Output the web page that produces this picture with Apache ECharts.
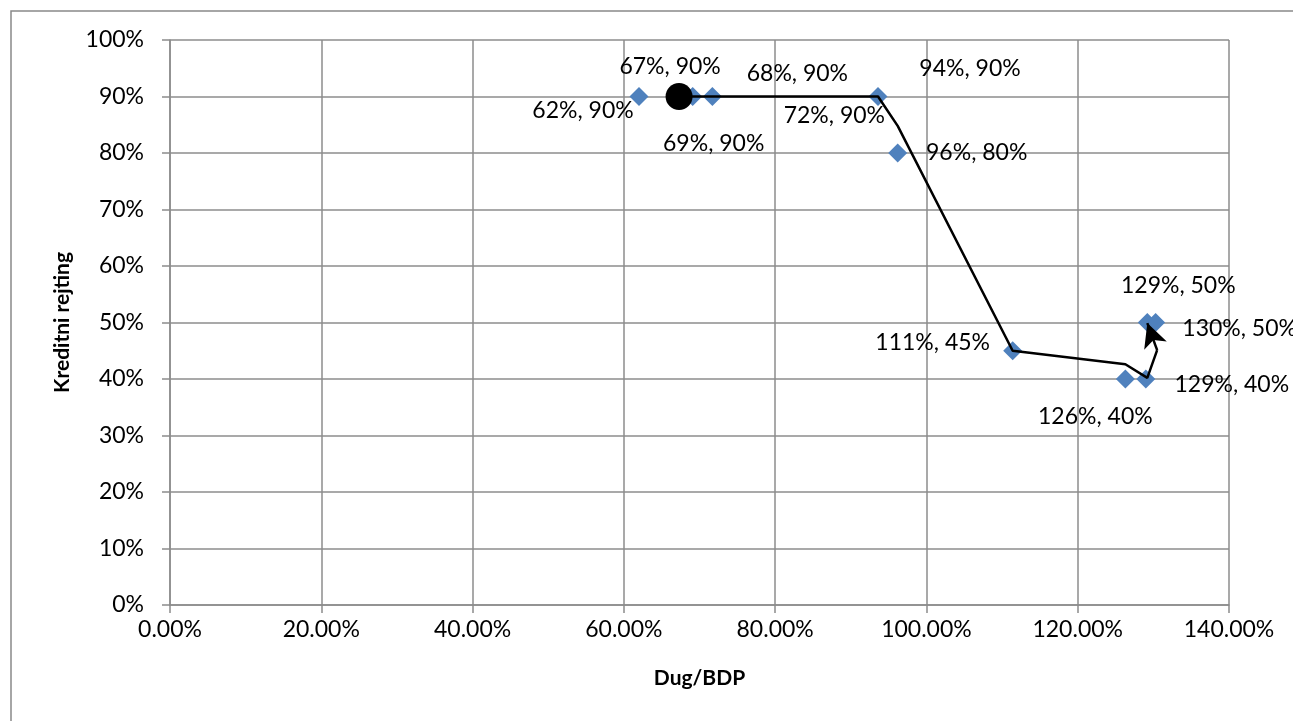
<!DOCTYPE html>
<html><head><meta charset="utf-8">
<script src="https://cdn.jsdelivr.net/npm/echarts@6/dist/echarts.min.js"></script>
<style>html,body{margin:0;padding:0;background:#fff;}#c{width:1293px;height:721px;}</style>
</head><body><div id="c"></div>
<script>
// Data
const debtToGdp = [62.0, 67.3, 68.0, 69.1, 71.7, 93.6, 96.2, 111.4, 126.3, 129.0, 129.2, 130.3];
const creditRating = [90, 90, 90, 90, 90, 90, 80, 45, 40, 40, 50, 50];
const pathX = [67.3, 93.6, 96.2, 111.4, 126.3, 129.2, 130.5];
const pathY = [90, 90, 84.8, 45, 42.6, 40.2, 45.1];
const arrowEnd = [129.2, 49.9];
const startPoint = [67.3, 90];
const xTicks = [0, 20, 40, 60, 80, 100, 120, 140];
const yTicks = [0, 10, 20, 30, 40, 50, 60, 70, 80, 90, 100];

// label placement (style only)
const labelOffsets = [[-56,14],[-9,-30],[113,-23],[21,47],[122,19],[92,-28],[79,0],[-80,-8],[-30,38],[86,6],[31,-37],[84,6]];

const FONT = 'Lato';
const scatterData = debtToGdp.map((x, i) => ({
  value: [x, creditRating[i]],
  label: { show: true, position: 'inside', offset: labelOffsets[i],
    formatter: Math.round(x) + '%, ' + Math.round(creditRating[i]) + '%' }
}));

const chart = echarts.init(document.getElementById('c'));
chart.setOption({
  animation: false,
  textStyle: { fontFamily: FONT },
  graphic: [{ type: 'rect', shape: { x: 11, y: 11, width: 1400, height: 800 },
    style: { fill: 'none', stroke: '#898989', lineWidth: 1.5 }, silent: true }],
  grid: { left: 170, right: 64, top: 40, bottom: 116, containLabel: false },
  xAxis: {
    type: 'value', min: xTicks[0], max: xTicks[xTicks.length-1], interval: 20,
    name: 'Dug/BDP', nameLocation: 'middle', nameGap: 63,
    nameTextStyle: { fontFamily: FONT, fontWeight: 'bold', fontSize: 21, color: '#000' },
    axisLine: { show: true, lineStyle: { color: '#8c8c8c', width: 1.5 } },
    axisTick: { show: true, length: 8, lineStyle: { color: '#8c8c8c', width: 1.5 } },
    axisLabel: { fontFamily: FONT, fontSize: 23, color: '#000', margin: 13,
      formatter: v => v.toFixed(2) + '%' },
    splitLine: { show: true, lineStyle: { color: '#8c8c8c', width: 1.5 } }
  },
  yAxis: {
    type: 'value', min: yTicks[0], max: yTicks[yTicks.length-1], interval: 10,
    name: 'Kreditni rejting', nameLocation: 'middle', nameGap: 97,
    nameTextStyle: { fontFamily: FONT, fontWeight: 'bold', fontSize: 21, color: '#000' },
    axisLine: { show: true, lineStyle: { color: '#8c8c8c', width: 1.5 } },
    axisTick: { show: true, length: 8, lineStyle: { color: '#8c8c8c', width: 1.5 } },
    axisLabel: { fontFamily: FONT, fontSize: 23, color: '#000', margin: 26,
      formatter: v => v + '%' },
    splitLine: { show: true, lineStyle: { color: '#8c8c8c', width: 1.5 } }
  },
  series: [
    {
      type: 'scatter', symbol: 'diamond', symbolSize: 19,
      itemStyle: { color: '#4F81BD', opacity: 1 },
      label: { fontFamily: FONT, fontSize: 23, color: '#000' },
      data: scatterData, z: 2
    },
    {
      type: 'line', data: pathX.map((x, i) => [x, pathY[i]]),
      symbol: 'none', lineStyle: { color: '#000', width: 2.5 }, z: 3,
      markLine: {
        silent: true, symbol: ['none', 'arrow'], symbolSize: [18, 24],
        label: { show: false },
        lineStyle: { color: '#000', width: 2.5, type: 'solid' },
        data: [[{ coord: [pathX[pathX.length-1], pathY[pathY.length-1]] }, { coord: arrowEnd }]]
      }
    },
    {
      type: 'scatter', symbol: 'circle', symbolSize: 27,
      itemStyle: { color: '#000', opacity: 1 }, data: [startPoint], z: 4
    }
  ]
});
</script></body></html>
